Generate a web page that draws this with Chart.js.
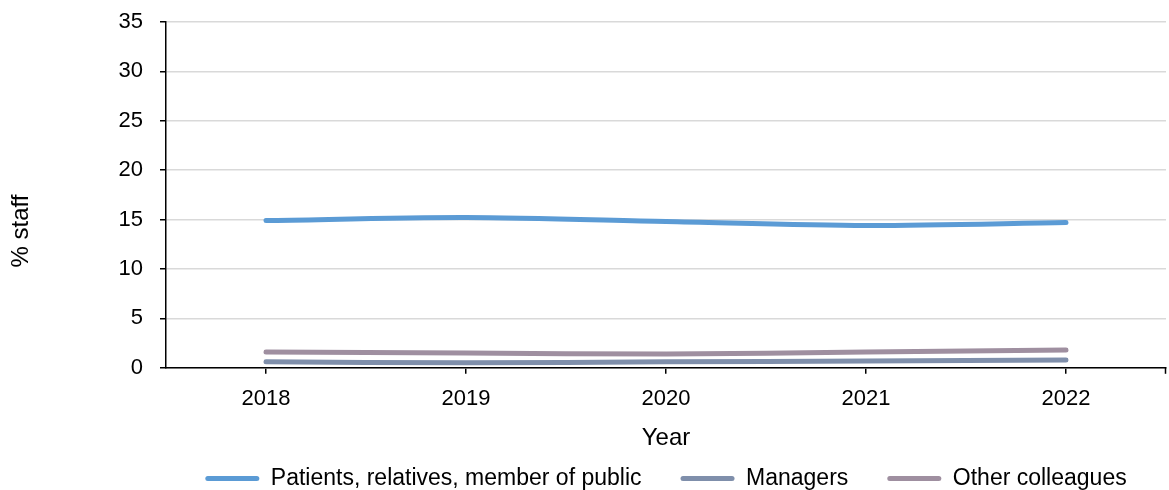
<!DOCTYPE html>
<html>
<head>
<meta charset="utf-8">
<script src="https://cdn.jsdelivr.net/npm/chart.js@4.4.0/dist/chart.umd.min.js"></script>
<style>
    html, body { margin: 0; padding: 0; background: #fff; }
    #wrap { width: 1169px; height: 490px; position: relative; }
</style>
</head>
<body>
<div id="wrap"><canvas id="chart"></canvas></div>
<script>
const years = ['2018', '2019', '2020', '2021', '2022']
const patients = [14.9, 15.2, 14.8, 14.4, 14.7]
const managers = [0.6, 0.5, 0.6, 0.7, 0.8]
const colleagues = [1.6, 1.5, 1.4, 1.6, 1.8]
const seriesNames = ['Patients, relatives, member of public', 'Managers', 'Other colleagues']
const seriesColors = ['#5b9bd5', '#7f8fab', '#9f8fa0']
const yTitle = '% staff'
const xTitle = 'Year'

const fontFamily = '"Liberation Sans", Arial, sans-serif'

// y title sits a bit below the middle of the plot, and the x axis gets a tick at its far end
const extras = {
    id: 'extras',
    afterDraw(chart) {
        const ctx = chart.ctx
        const area = chart.chartArea
        ctx.save()
        ctx.strokeStyle = '#000'
        ctx.lineWidth = 1.5
        ctx.beginPath()
        ctx.moveTo(area.right - 0.5, area.bottom)
        ctx.lineTo(area.right - 0.5, area.bottom + 6)
        ctx.stroke()

        ctx.translate(21, 231)
        ctx.rotate(-Math.PI / 2)
        ctx.fillStyle = '#000'
        ctx.font = '24px ' + fontFamily
        ctx.textAlign = 'center'
        ctx.textBaseline = 'middle'
        ctx.fillText(yTitle, 0, 0)
        ctx.restore()
    }
}

const makeSet = (i, data) => ({
    label: seriesNames[i],
    data: data,
    borderColor: seriesColors[i],
    backgroundColor: seriesColors[i],
    borderWidth: 5,
    borderCapStyle: 'round',
    tension: 0.3,
    pointRadius: 0
})

new Chart(document.getElementById('chart'), {
    type: 'line',
    data: {
        labels: years,
        datasets: [makeSet(0, patients), makeSet(1, managers), makeSet(2, colleagues)]
    },
    options: {
        animation: false,
        responsive: true,
        maintainAspectRatio: false,
        layout: {
            autoPadding: false,
            // legend padding is wide for item spacing, so pull the bottom in a bit
            padding: { top: 22, right: 3, bottom: -10, left: 0 }
        },
        plugins: {
            legend: {
                position: 'bottom',
                fullSize: false,
                labels: {
                    font: { family: fontFamily, size: 23 },
                    color: '#000',
                    boxWidth: 54,
                    boxHeight: 5,
                    useBorderRadius: true,
                    borderRadius: 2.5,
                    padding: 39,
                    generateLabels(chart) {
                        const items = Chart.defaults.plugins.legend.labels.generateLabels(chart)
                        items.forEach(item => { item.lineWidth = 0 })
                        return items
                    }
                }
            },
            tooltip: { enabled: false }
        },
        scales: {
            x: {
                offset: true,
                grid: {
                    display: true,
                    drawOnChartArea: false,
                    offset: false,
                    tickLength: 6,
                    color: '#000',
                    lineWidth: 1.5
                },
                border: { color: '#000', width: 1.5 },
                ticks: {
                    color: '#000',
                    font: { family: fontFamily, size: 22 },
                    padding: 12
                },
                title: {
                    display: true,
                    text: xTitle,
                    color: '#000',
                    font: { family: fontFamily, size: 24 },
                    padding: { top: 0, bottom: -25 }
                }
            },
            y: {
                min: 0,
                max: 35,
                afterFit(scale) {
                    scale.width = 166
                    // tick padding is only meant horizontally
                    scale.paddingTop = 0
                    scale.paddingBottom = 0
                },
                grid: {
                    color: '#d9d9d9',
                    lineWidth: 1.5,
                    tickColor: '#000',
                    tickLength: 6
                },
                border: { color: '#000', width: 1.5 },
                ticks: {
                    stepSize: 5,
                    color: '#000',
                    font: { family: fontFamily, size: 22 },
                    padding: 17
                }
            }
        }
    },
    plugins: [extras]
})
</script>
</body>
</html>
